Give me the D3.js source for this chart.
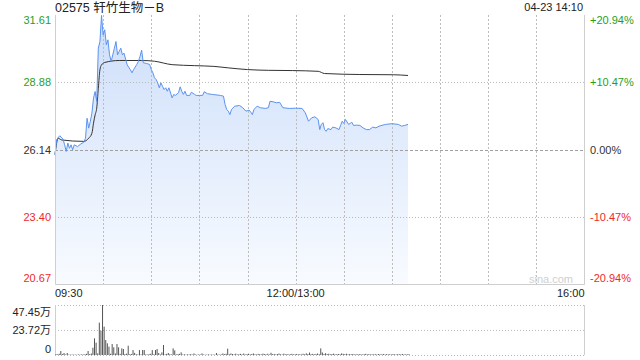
<!DOCTYPE html>
<html>
<head>
<meta charset="utf-8">
<script src="https://cdn.jsdelivr.net/npm/d3@7"></script>
<style>
body { margin: 0; background: #fff; }
text { font-family: "Liberation Sans", Arial, "Noto Sans CJK SC", sans-serif; }
</style>
</head>
<body>
<div class="chart"></div>
<script>
let title = "02575 轩竹生物－B"
let stamp = "04-23 14:10"
let prevClose = 26.14
let priceTicks = [31.61, 28.88, 26.14, 23.40, 20.67]
let pctTicks = ["+20.94%", "+10.47%", "0.00%", "-10.47%", "-20.94%"]
let timeTicks = [0, 150, 330]
let timeLabels = ["09:30", "12:00/13:00", "16:00"]
let volTicks = [47.45, 23.72, 0]
let volLabels = ["47.45万", "23.72万", "0"]

// minutes after 09:30 (lunch removed) and price
let priceMin = [0, 1, 2, 3, 5, 6, 7, 8, 9, 10, 11, 12, 14, 16, 18, 19, 20, 21, 22, 23,
    24, 25, 26, 27, 28, 29, 30, 31, 32, 33, 34, 35, 36, 37, 38, 39, 40, 41, 42, 43,
    45, 47, 48, 49, 51, 52, 53, 54, 55, 57, 59, 60, 61, 62, 63, 64, 65, 66, 67, 68,
    69, 70, 71, 73, 74, 75, 77, 78, 79, 80, 81, 82, 84, 85, 87, 88, 90, 92, 93, 95,
    98, 103, 105, 106, 107, 108, 109, 110, 112, 115, 117, 119, 121, 122, 123, 124, 126, 128, 131, 133,
    134, 136, 138, 140, 142, 146, 150, 154, 156, 158, 160, 162, 164, 165, 166, 167, 168, 169, 170, 172,
    173, 175, 177, 178, 179, 180, 181, 183, 184, 185, 186, 188, 190, 192, 194, 196, 198, 200, 202, 206,
    210, 214, 216, 218, 220]
let priceVal = [25.92, 26.53, 26.63, 26.70, 26.56, 26.33, 26.06, 26.40, 26.19, 26.33, 26.13, 26.33, 26.26, 26.36, 26.44, 26.60, 27.41, 27.01, 27.28, 27.62,
    28.23, 28.50, 28.09, 30.26, 30.53, 31.59, 30.80, 31.01, 30.40, 30.60, 29.99, 29.72, 29.99, 30.26, 30.53, 29.99, 30.13, 30.26, 29.99, 30.06,
    29.58, 29.38, 29.26, 29.39, 29.60, 29.73, 29.93, 30.18, 29.67, 29.64, 29.60, 29.39, 29.26, 29.06, 28.99, 28.85, 28.65, 28.85, 28.71, 28.58,
    28.65, 28.51, 28.65, 28.24, 28.38, 28.34, 28.45, 28.69, 28.51, 28.38, 28.51, 28.34, 28.34, 28.47, 28.38, 28.34, 28.34, 28.34, 28.49, 28.41,
    28.38, 28.34, 28.31, 27.97, 27.77, 27.70, 27.56, 27.77, 27.90, 27.93, 27.84, 27.70, 27.74, 27.66, 27.56, 27.77, 27.90, 27.84, 27.81, 27.84,
    28.10, 28.08, 28.04, 28.06, 27.84, 27.81, 27.82, 27.81, 27.63, 27.29, 27.43, 27.47, 27.36, 26.95, 27.16, 27.23, 26.95, 26.88, 26.99, 26.95,
    27.05, 27.02, 26.95, 27.12, 27.29, 27.20, 27.36, 27.16, 27.20, 27.25, 27.12, 27.13, 27.12, 27.02, 26.95, 26.95, 27.05, 27.02, 27.09, 27.16,
    27.19, 27.16, 27.09, 27.12, 27.16]

let avgMin = [0, 2, 4, 18, 21, 23, 24, 25, 26, 27, 28, 29, 31, 40, 48, 54, 62, 73, 87, 99, 108, 120, 133, 148, 164, 168, 190, 211, 220]
let avgVal = [25.94, 26.60, 26.53, 26.47, 26.60, 26.80, 27.21, 27.55, 27.82, 28.63, 29.38, 29.58, 29.68, 29.76, 29.76, 29.76, 29.73, 29.59, 29.55, 29.52, 29.46, 29.39, 29.36, 29.35, 29.32, 29.23, 29.19, 29.18, 29.15]

// volume per minute, 万股
let volume = [0.8, 0.6, 1.2, 3.8, 0.9, 1.9, 0.5, 1.9, 0.4, 0.3,
    0.5, 0.3, 0.4, 0.3, 0.5, 0.4, 0.6, 0.5, 0.7, 1.1,
    3.8, 0.9, 1.4, 6.9, 15.8, 11.7, 1.5, 30.7, 23.0, 47.45,
    26.9, 14.2, 11.1, 7.9, 1.2, 10.4, 7.3, 1.5, 10.4, 7.3,
    1.1, 6.3, 5.7, 0.9, 1.3, 8.8, 0.8, 1.0, 4.7, 2.0,
    0.7, 0.5, 4.7, 0.6, 4.7, 4.7, 0.6, 0.4, 0.9, 1.2,
    4.7, 0.7, 4.7, 5.7, 1.9, 0.5, 2.5, 9.5, 0.6, 1.1,
    1.9, 0.8, 0.5, 6.3, 4.4, 0.6, 0.9, 1.1, 2.5, 0.5,
    0.7, 0.4, 0.6, 0.5, 0.9, 0.4, 1.5, 0.5, 0.3, 0.6,
    0.4, 1.5, 0.5, 0.3, 0.4, 0.6, 0.3, 0.5, 0.4, 0.3,
    1.9, 0.5, 0.4, 0.6, 1.5, 0.8, 1.2, 6.0, 0.7, 1.5,
    0.9, 0.6, 1.3, 0.5, 0.8, 1.1, 0.6, 1.4, 0.5, 0.9,
    1.2, 0.6, 0.9, 1.5, 0.7, 0.5, 1.1, 0.8, 0.6, 1.3,
    0.9, 0.6, 1.2, 0.5, 2.1, 0.8, 1.0, 0.6, 0.9, 1.4,
    0.7, 0.5, 1.3, 0.6, 0.9, 0.5, 0.8, 1.1, 0.6, 0.7,
    1.0, 0.6, 0.8, 0.5, 1.2, 0.7, 1.6, 0.9, 2.3, 0.8,
    1.1, 0.7, 0.9, 1.4, 0.8, 6.3, 2.4, 1.0, 1.7, 0.9,
    1.2, 0.7, 0.9, 1.3, 0.6, 0.8, 1.0, 0.7, 1.5, 1.1,
    0.8, 1.2, 0.6, 0.9, 0.7, 1.0, 0.5, 0.8, 0.6, 0.9,
    0.7, 0.5, 0.8, 1.1, 0.6, 0.9, 0.5, 0.7, 0.6, 0.8,
    0.5, 0.9, 0.7, 0.6, 1.0, 0.5, 0.8, 0.6, 0.7, 0.5,
    0.9, 0.6, 0.5, 0.8, 0.7, 0.6, 1.0, 0.5, 0.7, 0.6,
    0.8]

let green = "#1f9f1f"
let red = "#ee2a2a"
let plotLeft = 55, plotRight = 584.5
let plotTop = 15, plotBottom = 284
let volTop = 305, volBottom = 355

let svg = d3.select(".chart")
    .append("svg")
    .attr("width", 640)
    .attr("height", 360)

let x = d3.scaleLinear().domain([0, 330]).range([plotLeft, plotRight])
let y = d3.scaleLinear().domain([20.67, 31.61]).range([plotBottom, plotTop])
let yVol = d3.scaleLinear().domain([0, 47.45]).range([volBottom, volTop])

let colorOf = p => p > prevClose ? green : (p < prevClose ? red : "#333")

// gradient for the area
let grad = svg.append("defs").append("linearGradient")
    .attr("id", "fill")
    .attr("gradientUnits", "userSpaceOnUse")
    .attr("x1", 0).attr("y1", plotTop).attr("x2", 0).attr("y2", plotBottom)
grad.append("stop").attr("offset", "0%").attr("stop-color", "#cddefa")
grad.append("stop").attr("offset", "100%").attr("stop-color", "#f8fbff")

let pts = priceMin.map((m, i) => [m, priceVal[i]])
let avgPts = avgMin.map((m, i) => [m, avgVal[i]])

// area
svg.append("path")
    .datum(pts)
    .attr("fill", "url(#fill)")
    .attr("d", d3.area().x(d => x(d[0])).y0(plotBottom).y1(d => y(d[1])))

// grid
let halfHours = d3.range(30, 330, 30)
svg.append("g")
    .attr("class", "vgrid")
    .selectAll("path")
    .data(halfHours)
    .enter()
    .append("path")
    .attr("d", d => `M${Math.round(x(d)) + 0.5},${plotTop} V${plotBottom}`)
    .attr("fill", "none")
    .attr("stroke", "#bdbdbd")
    .attr("stroke-width", 1)
    .attr("stroke-dasharray", "2,2")

svg.append("g")
    .selectAll("line")
    .data(priceTicks.filter(d => d != priceTicks[0] && d != priceTicks[4]))
    .enter()
    .append("line")
    .attr("x1", plotLeft)
    .attr("x2", plotRight)
    .attr("y1", d => Math.round(y(d)) + 0.5)
    .attr("y2", d => Math.round(y(d)) + 0.5)
    .attr("stroke", d => d == prevClose ? "#a0a0a0" : "#b8b8b8")
    .attr("stroke-dasharray", d => d == prevClose ? "3,2" : "1,2")

// lines
svg.append("path")
    .datum(avgPts)
    .attr("fill", "none")
    .attr("stroke", "#333")
    .attr("stroke-width", 1)
    .attr("d", d3.line().x(d => x(d[0])).y(d => y(d[1])).curve(d3.curveMonotoneX))

svg.append("path")
    .datum(pts)
    .attr("fill", "none")
    .attr("stroke", "#5a93f0")
    .attr("stroke-width", 1)
    .attr("d", d3.line().x(d => x(d[0])).y(d => y(d[1])))

// frame
svg.append("path")
    .attr("d", `M${plotLeft + 0.5},${plotTop} V${plotBottom + 0.5} H${plotRight} V${plotTop}`)
    .attr("fill", "none")
    .attr("stroke", "#cfcfcf")

svg.append("text")
    .attr("x", 573)
    .attr("y", 283)
    .attr("text-anchor", "end")
    .attr("font-size", 11)
    .attr("fill", "#d0d0d0")
    .text("sina.com")

// price labels
svg.append("g")
    .selectAll("text")
    .data(priceTicks)
    .enter()
    .append("text")
    .attr("x", 51)
    .attr("y", (d, i) => y(d) + (i == 0 ? 9 : i == 4 ? -2 : 4))
    .attr("text-anchor", "end")
    .attr("font-size", 11)
    .attr("fill", colorOf)
    .text(d => d.toFixed(2))

svg.append("g")
    .selectAll("text")
    .data(pctTicks)
    .enter()
    .append("text")
    .attr("x", 590)
    .attr("y", (d, i) => y(priceTicks[i]) + (i == 0 ? 9 : i == 4 ? -2 : 4))
    .attr("font-size", 11)
    .attr("fill", (d, i) => colorOf(priceTicks[i]))
    .text(d => d)

// time labels
svg.append("g")
    .selectAll("text")
    .data(timeTicks)
    .enter()
    .append("text")
    .attr("x", d => x(d))
    .attr("y", 297)
    .attr("text-anchor", (d, i) => i == 0 ? "start" : i == 2 ? "end" : "middle")
    .attr("font-size", 11)
    .attr("fill", "#222")
    .text((d, i) => timeLabels[i])

// title
svg.append("text")
    .attr("x", 55)
    .attr("y", 12)
    .attr("font-size", 12.5)
    .attr("fill", "#222")
    .text(title)

svg.append("text")
    .attr("x", 583)
    .attr("y", 11)
    .attr("text-anchor", "end")
    .attr("font-size", 11)
    .attr("fill", "#222")
    .text(stamp)

// volume
svg.append("g")
    .selectAll("line")
    .data(volTicks)
    .enter()
    .append("line")
    .attr("x1", plotLeft)
    .attr("x2", plotRight)
    .attr("y1", d => Math.round(yVol(d)) + 0.5)
    .attr("y2", d => Math.round(yVol(d)) + 0.5)
    .attr("stroke", "#b8b8b8")
    .attr("stroke-dasharray", "1,2")

svg.append("path")
    .attr("d", `M${plotLeft + 0.5},${volTop} V${volBottom} M${plotRight},${volTop} V${volBottom}`)
    .attr("stroke", "#cfcfcf")

svg.append("g")
    .selectAll("rect")
    .data(volume)
    .enter()
    .append("rect")
    .attr("x", (d, i) => x(i) + 0.5)
    .attr("y", d => yVol(d))
    .attr("width", 1)
    .attr("height", d => volBottom - yVol(d))
    .attr("fill", "#555")

svg.append("g")
    .selectAll("text")
    .data(volTicks)
    .enter()
    .append("text")
    .attr("x", 51)
    .attr("y", (d, i) => yVol(d) + (i == 0 ? 11 : i == 2 ? -2 : 4))
    .attr("text-anchor", "end")
    .attr("font-size", 11)
    .attr("fill", "#222")
    .text((d, i) => volLabels[i])
</script>
</body>
</html>
